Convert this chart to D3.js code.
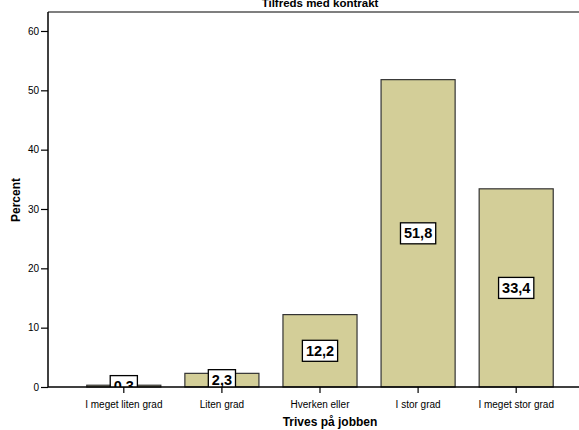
<!DOCTYPE html>
<html><head><meta charset="utf-8">
<script src="https://cdn.jsdelivr.net/npm/d3@7"></script>
<style>body{margin:0;background:#fff}svg{display:block}text{font-family:"Liberation Sans",Arial,sans-serif}</style>
</head><body><svg id="c" width="579" height="430"></svg>
<script>
const categories = ["I meget liten grad","Liten grad","Hverken eller","I stor grad","I meget stor grad"];
const values = [0.3, 2.3, 12.2, 51.8, 33.4];
const valueLabels = ["0,3","2,3","12,2","51,8","33,4"];
const yTicks = [0,10,20,30,40,50,60];
const title = "Tilfreds med kontrakt";
const xTitle = "Trives på jobben";
const yTitle = "Percent";

const svg = d3.select("#c");
const L = 48, R = 579, T = 12, B = 387;
const x = d3.scaleBand().domain(categories).range([75, 565]).paddingInner(0.245).paddingOuter(0.12);
const y = d3.scaleLinear().domain([0, 63.2]).range([B, T]);

svg.append("defs").append("clipPath").attr("id","clip")
  .append("rect").attr("x", L).attr("y", T).attr("width", R - L).attr("height", B - T);

// bars
svg.append("g").selectAll("rect").data(values).join("rect")
  .attr("x", (d,i) => x(categories[i]))
  .attr("y", d => y(d))
  .attr("width", x.bandwidth())
  .attr("height", d => B - y(d))
  .attr("fill", "#d3ce98").attr("stroke", "#333").attr("stroke-width", 1.2);

// value labels
const lg = svg.append("g").attr("clip-path","url(#clip)");
values.forEach((v,i) => {
  const cx = x(categories[i]) + x.bandwidth()/2;
  const cy = (y(v) + B) / 2;
  const t = lg.append("text").attr("x", cx).attr("y", cy + 5)
    .attr("text-anchor","middle").attr("font-size", 14.5).attr("font-weight","bold")
    .text(valueLabels[i]);
  const w = t.node().getComputedTextLength();
  lg.insert("rect", function(){ return t.node(); })
    .attr("x", cx - w/2 - 3.5).attr("y", cy - 10.5).attr("width", w + 7).attr("height", 21)
    .attr("fill","#fff").attr("stroke","#000").attr("stroke-width",1.3);
});

// frame lines
svg.append("line").attr("x1",L).attr("x2",R).attr("y1",T).attr("y2",T).attr("stroke","#000").attr("stroke-width",1.2);

// y axis
const ya = svg.append("g").attr("transform",`translate(${L},0)`)
  .call(d3.axisLeft(y).tickValues(yTicks).tickSize(7).tickPadding(2).tickFormat(d3.format("d")));
ya.select(".domain").attr("d", `M0,${T}V${B}`).attr("stroke-width",1.5);
ya.selectAll("text").attr("font-size",10).attr("font-family","Liberation Sans, Arial, sans-serif").attr("fill","#000");
ya.selectAll(".tick line").attr("stroke-width",1.2);

// x axis
const xa = svg.append("g").attr("transform",`translate(0,${B})`)
  .call(d3.axisBottom(x).tickSize(6).tickPadding(8));
xa.select(".domain").attr("d", `M${L},0H${R}`).attr("stroke-width",1.5);
xa.selectAll("text").attr("font-size",10).attr("font-family","Liberation Sans, Arial, sans-serif").attr("fill","#000");
xa.selectAll(".tick line").attr("stroke-width",1.2);

// titles
svg.append("text").attr("x", 320).attr("y", 7).attr("text-anchor","middle")
  .attr("font-size",11.5).attr("font-weight","bold").text(title);
svg.append("text").attr("x", 330).attr("y", 426).attr("text-anchor","middle")
  .attr("font-size",12).attr("font-weight","bold").text(xTitle);
svg.append("text").attr("transform","translate(20,200) rotate(-90)").attr("text-anchor","middle")
  .attr("font-size",12).attr("font-weight","bold").text(yTitle);
</script></body></html>
